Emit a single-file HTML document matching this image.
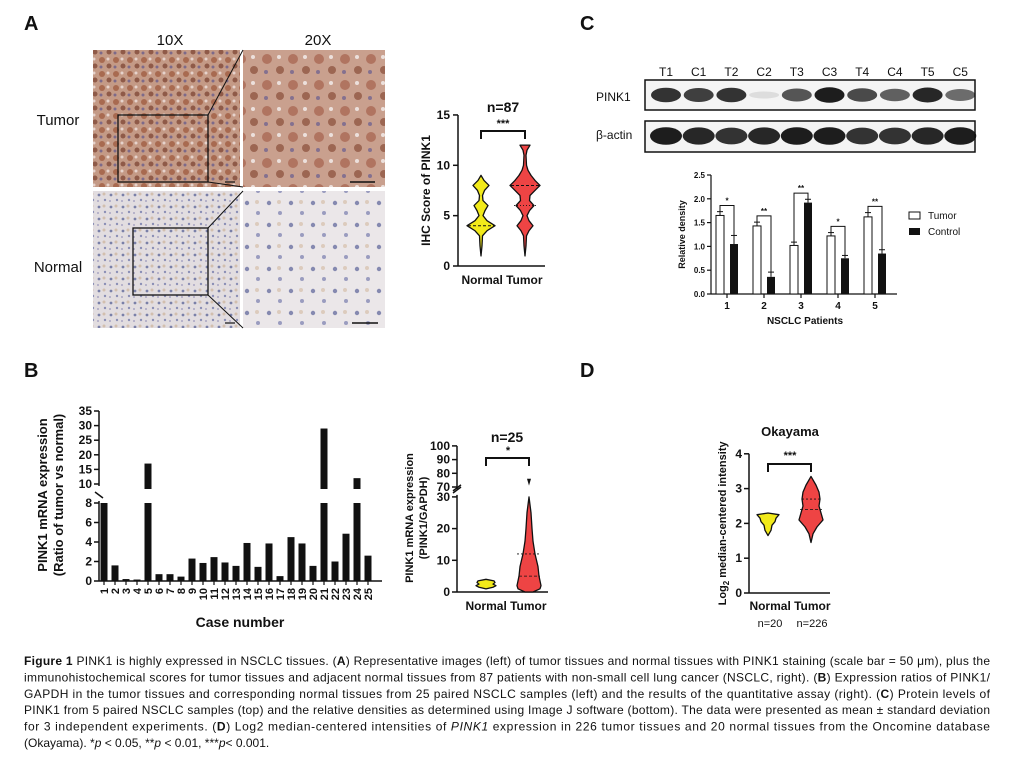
<!DOCTYPE html>
<html><head><meta charset="utf-8"><style>
html,body{margin:0;padding:0;background:#fff;}
svg{display:block;font-family:"Liberation Sans",Arial,sans-serif;}
</style></head><body>
<svg id="fig" width="1029" height="765" viewBox="0 0 1029 765" xmlns="http://www.w3.org/2000/svg">
<defs>
<pattern id="tumorTex" width="14" height="14" patternUnits="userSpaceOnUse">
<rect width="14" height="14" fill="#c49a86"/><circle cx="4" cy="4" r="3" fill="#a86a50"/><circle cx="11" cy="10" r="2.5" fill="#8f5a48"/><circle cx="10" cy="3" r="1.5" fill="#e6d3cc"/><circle cx="3" cy="11" r="1.5" fill="#7d6a8a"/>
</pattern>
<pattern id="normalTex" width="12" height="12" patternUnits="userSpaceOnUse">
<rect width="12" height="12" fill="#e2dde0"/><circle cx="3" cy="3" r="1.4" fill="#7a80a8"/><circle cx="9" cy="8" r="1.2" fill="#8b8fb5"/><circle cx="8" cy="2" r="1.5" fill="#d2bfae"/><circle cx="2" cy="9" r="1" fill="#a9a6c4"/>
</pattern>
<pattern id="tumorTex2" width="26" height="26" patternUnits="userSpaceOnUse">
<rect width="26" height="26" fill="#c9a08e"/><circle cx="7" cy="7" r="5" fill="#b07460"/><circle cx="20" cy="18" r="4" fill="#9c6652"/><circle cx="19" cy="5" r="2" fill="#ece0dc"/><circle cx="6" cy="20" r="2" fill="#84708f"/>
</pattern>
<pattern id="normalTex2" width="22" height="22" patternUnits="userSpaceOnUse">
<rect width="22" height="22" fill="#ebe7e9"/><circle cx="5" cy="5" r="2.2" fill="#8589b0"/><circle cx="16" cy="15" r="2" fill="#9a9cbf"/><circle cx="15" cy="4" r="2" fill="#dccbbd"/>
</pattern>
</defs>
<g id="root"></g>
</svg>
<script>
const NS="http://www.w3.org/2000/svg";
const root=document.getElementById('root');
function E(tag,attrs,parent,text){const e=document.createElementNS(NS,tag);for(const k in attrs)e.setAttribute(k,attrs[k]);if(text!==undefined)e.textContent=text;(parent||root).appendChild(e);return e;}
function G(name){const g=E('g',{});return g;}
function T(p,x,y,s,txt,o){o=o||{};const t=E('text',Object.assign({x:x,y:y,'font-size':s,fill:'#111','text-anchor':o.anchor||'middle','font-weight':o.bold?'bold':'normal'},o.extra||{}),p,txt);return t;}
function L(p,x1,y1,x2,y2,w,extra){return E('line',Object.assign({x1:x1,y1:y1,x2:x2,y2:y2,stroke:'#111','stroke-width':w||1.5},extra||{}),p);}

/* ---------- DATA ---------- */
const caseLabels=["1","2","3","4","5","6","7","8","9","10","11","12","13","14","15","16","17","18","19","20","21","22","23","24","25"];
const caseRatios=[8,1.6,0.2,0.15,17,0.7,0.7,0.45,2.3,1.85,2.45,1.9,1.55,3.9,1.45,3.85,0.5,4.5,3.85,1.55,29,2.0,4.85,12,2.6];
const bLowTicks=[0,2,4,6,8];
const bHighTicks=[10,15,20,25,30,35];
const patients=["1","2","3","4","5"];
const tumorDensity=[1.65,1.43,1.02,1.22,1.62];
const tumorErr=[0.08,0.08,0.07,0.07,0.09];
const controlDensity=[1.05,0.36,1.92,0.75,0.85];
const controlErr=[0.18,0.1,0.07,0.06,0.08];
const sigMarks=["*","**","**","*","**"];
const cTicks=[0,0.5,1.0,1.5,2.0,2.5];
const lanes=["T1","C1","T2","C2","T3","C3","T4","C4","T5","C5"];
const pinkBand=[0.85,0.8,0.85,0.1,0.7,0.95,0.75,0.65,0.9,0.6];
const actinBand=[0.95,0.9,0.85,0.9,0.95,0.95,0.85,0.85,0.9,0.95];
const ihcTicks=[0,5,10,15];
const ihcNormalV=[1,2,3,3.5,4,4.5,5,5.5,6,6.5,7,7.5,8,8.5,9];
const ihcNormalW=[0,1,1.5,6,14,6,2,4,7,2,1.5,3.5,8,3,0];
const ihcTumorV=[1,2,3,3.5,4,4.5,5,5.5,6,6.5,7,7.5,8,8.5,9,9.5,10,11,11.5,12];
const ihcTumorW=[0,1,1.5,4,8,4,2,4.5,9,4.5,5,10,15,10,6,3,1.5,1,2,5];
const qNormalV=[1,1.5,2,2.5,3,3.5,4];
const qNormalW=[0,7,10,7,9,8,0];
const qTumorV=[0,1,2,5,8,12,16,20,25,30];
const qTumorW=[4,11,12,10,9,6,4,3,2,0];
const dNormalV=[1.65,1.8,1.95,2.05,2.15,2.25,2.3];
const dNormalW=[0,3,4,7,8,11,0];
const dTumorV=[1.45,1.7,1.9,2.1,2.3,2.5,2.7,2.9,3.1,3.35];
const dTumorW=[0,2,6,12,10,8,9,8,5,0];
const dTicks=[0,1,2,3,4];

/* ---------- Panel letters ---------- */
[["A",24,30],["B",24,377],["C",580,30],["D",580,377]].forEach(([l,x,y])=>{const t=T(root,x,y,20,l,{anchor:'start',bold:true});});

/* ---------- Panel A images ---------- */
(function(){
const g=G('panel-a-histology');
T(g,170,45,15,'10X');T(g,318,45,15,'20X');
T(g,58,125,15,'Tumor',{anchor:'middle'});T(g,58,272,15,'Normal',{anchor:'middle'});
E('rect',{x:93,y:50,width:147,height:137,fill:'url(#tumorTex)'},g);
E('rect',{x:243,y:50,width:142,height:137,fill:'url(#tumorTex2)'},g);
E('rect',{x:93,y:191,width:147,height:137,fill:'url(#normalTex)'},g);
E('rect',{x:243,y:191,width:142,height:137,fill:'url(#normalTex2)'},g);
E('rect',{x:118,y:115,width:90,height:67,fill:'none',stroke:'#111','stroke-width':1.3},g);
L(g,208,115,243,50,1);L(g,208,182,243,187,1);
E('rect',{x:133,y:228,width:75,height:67,fill:'none',stroke:'#111','stroke-width':1.3},g);
L(g,208,228,243,191,1);L(g,208,295,243,328,1);
L(g,350,182,375,182,1.5);L(g,225,182,235,182,1.2);L(g,352,323,378,323,1.5);L(g,225,323,235,323,1.2);
})();

function violin(g,cx,vals,ws,ys,scale,fill,name){
 let d='';
 for(let i=0;i<vals.length;i++){d+=(i?'L':'M')+(cx-ws[i]*scale)+' '+ys(vals[i]);}
 for(let i=vals.length-1;i>=0;i--){d+='L'+(cx+ws[i]*scale)+' '+ys(vals[i]);}
 const p=E('path',{d:d+'Z',fill:fill,stroke:'#111','stroke-width':1.3,'stroke-linejoin':'round'},g);
 
 return p;
}

/* ---------- Panel A violin ---------- */
(function(){
const g=G('panel-a-ihc-violin');
const y0=266,ppu=10.07,ax=458;const ys=v=>y0-v*ppu;
L(g,ax,ys(15),ax,y0);L(g,ax,y0,545,y0);
ihcTicks.forEach(t=>{L(g,ax-5,ys(t),ax,ys(t));T(g,ax-8,ys(t)+4,12,String(t),{anchor:'end',bold:true});});
const yl=T(g,0,0,12,'IHC Score of PINK1',{bold:true});yl.setAttribute('transform',`translate(430,${ys(7.5)}) rotate(-90)`);
violin(g,481,ihcNormalV,ihcNormalW,ys,1,'#f2ea1a','violin-normal');
violin(g,525,ihcTumorV,ihcTumorW,ys,1,'#ee4444','violin-tumor');
L(g,468,ys(4),494,ys(4),1,{'stroke-dasharray':'3,2'});L(g,511,ys(8),539,ys(8),1,{'stroke-dasharray':'3,2'});L(g,514,ys(6),536,ys(6),0.8,{'stroke-dasharray':'1,2'});
T(g,503,112,14,'n=87',{bold:true});T(g,503,127,11,'***',{bold:true});
E('path',{d:'M481 139 V131 H525 V139',fill:'none',stroke:'#111','stroke-width':2},g);
T(g,502,284,12,'Normal Tumor',{bold:true});
})();

/* ---------- Panel C blot ---------- */
(function(){
const g=G('panel-c-western-blot');
const x0=666,step=32.7;
lanes.forEach((l,i)=>T(g,x0+i*step,76,12,l));
T(g,596,101,12,'PINK1',{anchor:'start'});T(g,596,139,12,'β-actin',{anchor:'start'});
E('rect',{x:645,y:80,width:330,height:30,fill:'#f4f4f4',stroke:'#111','stroke-width':1.5},g);
E('rect',{x:645,y:121,width:330,height:31,fill:'#f4f4f4',stroke:'#111','stroke-width':1.5},g);
pinkBand.forEach((v,i)=>{E('ellipse',{cx:x0+i*step,cy:95,rx:15,ry:3+v*5,fill:'#111','fill-opacity':v},g);});
actinBand.forEach((v,i)=>{E('ellipse',{cx:x0+i*step,cy:136,rx:16,ry:5+v*4,fill:'#111','fill-opacity':v},g);});
})();

/* ---------- Panel C bar chart ---------- */
(function(){
const g=G('panel-c-density-chart');
const ax=711,y0=294,ppu=47.6;const ys=v=>y0-v*ppu;
const gx=i=>727+i*37;
L(g,ax,ys(2.5),ax,y0,1.2);L(g,ax,y0,897,y0,1.2);
cTicks.forEach(t=>{L(g,ax-4,ys(t),ax,ys(t),1.2);T(g,ax-6,ys(t)+3,8,t.toFixed(1),{anchor:'end',bold:true});});
const yl=T(g,0,0,9,'Relative density',{bold:true});yl.setAttribute('transform',`translate(685,${ys(1.25)}) rotate(-90)`);
patients.forEach((p,i)=>{
 const cx=gx(i);L(g,cx,y0,cx,y0+4,1.2);T(g,cx,y0+15,10,p,{bold:true});
 const tb=E('rect',{x:cx-11,y:ys(tumorDensity[i]),width:8,height:tumorDensity[i]*ppu,fill:'#fff',stroke:'#111','stroke-width':1},g);
 
 const cb=E('rect',{x:cx+3,y:ys(controlDensity[i]),width:8,height:controlDensity[i]*ppu,fill:'#111'},g);
 
 const tx=cx-7,cx2=cx+7;
 L(g,tx,ys(tumorDensity[i]),tx,ys(tumorDensity[i]+tumorErr[i]),1);L(g,tx-3,ys(tumorDensity[i]+tumorErr[i]),tx+3,ys(tumorDensity[i]+tumorErr[i]),1);
 L(g,cx2,ys(controlDensity[i]),cx2,ys(controlDensity[i]+controlErr[i]),1);L(g,cx2-3,ys(controlDensity[i]+controlErr[i]),cx2+3,ys(controlDensity[i]+controlErr[i]),1);
 const top=Math.max(tumorDensity[i]+tumorErr[i],controlDensity[i]+controlErr[i])+0.13;
 E('path',{d:`M${tx} ${ys(tumorDensity[i]+tumorErr[i])} V${ys(top)} H${cx2} V${ys(controlDensity[i]+controlErr[i])}`,fill:'none',stroke:'#111','stroke-width':1},g);
 T(g,cx,ys(top)-2,8,sigMarks[i],{bold:true});
});
T(g,805,324,10,'NSCLC Patients',{bold:true});
E('rect',{x:909,y:212,width:11,height:7,fill:'#fff',stroke:'#111','stroke-width':1},g);T(g,928,219,10,'Tumor',{anchor:'start'});
E('rect',{x:909,y:228,width:11,height:7,fill:'#111'},g);T(g,928,235,10,'Control',{anchor:'start'});
})();

/* ---------- Panel B bar chart ---------- */
(function(){
const g=G('panel-b-ratio-chart');
const ax=99,y0=581,lowPpu=9.75,brk=484,hiPpu=2.92;
const ys=v=> v<=8 ? y0-v*lowPpu : brk-(v-10)*hiPpu;
const xs=i=>104+i*11;
L(g,ax,ys(35),ax,ys(10)+2);L(g,ax,ys(8)-2,ax,y0);L(g,ax-4,492,ax+4,498,1.5);L(g,ax,y0,382,y0);
bLowTicks.concat(bHighTicks).forEach(t=>{L(g,ax-5,ys(t),ax,ys(t));T(g,ax-7,ys(t)+4,12,String(t),{anchor:'end',bold:true});});
caseRatios.forEach((v,i)=>{
 const x=xs(i)-3.5;
 if(v<=8){const b=E('rect',{x:x,y:ys(v),width:7,height:y0-ys(v),fill:'#111'},g);}
 else{const b=E('rect',{x:x,y:ys(8),width:7,height:y0-ys(8),fill:'#111'},g);
   const b2=E('rect',{x:x,y:ys(v),width:7,height:ys(10)+5-ys(v),fill:'#111'},g);}
 L(g,xs(i),y0,xs(i),y0+4,1.2);
 const t=T(g,0,0,11,caseLabels[i],{anchor:'end',bold:true});t.setAttribute('transform',`translate(${xs(i)+4},${y0+7}) rotate(-90)`);
});
const a=T(g,0,0,13,'PINK1 mRNA expression',{bold:true});a.setAttribute('transform','translate(47,495) rotate(-90)');
const b=T(g,0,0,13,'(Ratio of tumor vs normal)',{bold:true});b.setAttribute('transform','translate(63,495) rotate(-90)');
T(g,240,627,14,'Case number',{bold:true});
})();

/* ---------- Panel B violin ---------- */
(function(){
const g=G('panel-b-qpcr-violin');
const ax=457,y0=592,lp=3.17,hp=1.37;
const ys=v=> v<=30? y0-v*lp : 487-(v-70)*hp;
L(g,ax,ys(100),ax,ys(70)+2);L(g,ax,ys(30)-2,ax,y0);L(g,ax-4,ys(30)-6,ax+4,ys(30)-12,1.5);L(g,ax-4,ys(70)+6,ax+4,ys(70),1.5);
L(g,ax,y0,548,y0);
[0,10,20,30,70,80,90,100].forEach(t=>{L(g,ax-5,ys(t),ax,ys(t));T(g,ax-7,ys(t)+4,12,String(t),{anchor:'end',bold:true});});
const a=T(g,0,0,11,'PINK1 mRNA expression',{bold:true});a.setAttribute('transform','translate(413,518) rotate(-90)');
const b=T(g,0,0,11,'(PINK1/GAPDH)',{bold:true});b.setAttribute('transform','translate(427,518) rotate(-90)');
violin(g,486,qNormalV,qNormalW,ys,1,'#f2ea1a','violin-normal');
violin(g,529,qTumorV,qTumorW,ys,1,'#ee4444','violin-tumor');
E('path',{d:`M527 ${ys(76)} L531 ${ys(76)} L529 ${ys(71)} Z`,fill:'#111'},g);
L(g,517,ys(12),541,ys(12),0.8,{'stroke-dasharray':'2,2'});L(g,519,ys(5),540,ys(5),0.8,{'stroke-dasharray':'3,2'});
T(g,507,442,14,'n=25',{bold:true});T(g,508,454,11,'*',{bold:true});
E('path',{d:'M486 466 V458 H529 V466',fill:'none',stroke:'#111','stroke-width':2},g);
T(g,506,610,12,'Normal Tumor',{bold:true});
})();

/* ---------- Panel D violin ---------- */
(function(){
const g=G('panel-d-okayama-violin');
const ax=749,y0=593,ppu=34.8;const ys=v=>y0-v*ppu;
L(g,ax,ys(4),ax,y0);L(g,ax,y0,830,y0);
dTicks.forEach(t=>{L(g,ax-5,ys(t),ax,ys(t));T(g,ax-7,ys(t)+4,12,String(t),{anchor:'end',bold:true});});
const a=E('text',{'font-size':11,'font-weight':'bold','text-anchor':'middle',fill:'#111',transform:`translate(726,${ys(2)}) rotate(-90)`},g);
E('tspan',{},a,'Log');E('tspan',{'font-size':8,dy:3},a,'2');E('tspan',{dy:-3},a,' median-centered intensity');
violin(g,768,dNormalV,dNormalW,ys,1,'#f2ea1a','violin-normal');
violin(g,811,dTumorV,dTumorW,ys,1,'#ee4444','violin-tumor');
L(g,800,ys(2.4),822,ys(2.4),0.8,{'stroke-dasharray':'3,2'});L(g,802,ys(2.7),820,ys(2.7),0.8,{'stroke-dasharray':'2,2'});
T(g,790,436,13,'Okayama',{bold:true});T(g,790,459,11,'***',{bold:true});
E('path',{d:'M768 472 V464 H811 V472',fill:'none',stroke:'#111','stroke-width':2},g);
T(g,790,610,12,'Normal Tumor',{bold:true});
T(g,770,627,11,'n=20');T(g,812,627,11,'n=226');
})();

/* ---------- Caption ---------- */
(function(){
const g=G('figure-caption');
const lines=[
[['Figure 1',1],[' PINK1 is highly expressed in NSCLC tissues. (',0],['A',1],[') Representative images (left) of tumor tissues and normal tissues with PINK1 staining (scale bar = 50 μm), plus the',0]],
[['immunohistochemical scores for tumor tissues and adjacent normal tissues from 87 patients with non-small cell lung cancer (NSCLC, right). (',0],['B',1],[') Expression ratios of PINK1/',0]],
[['GAPDH in the tumor tissues and corresponding normal tissues from 25 paired NSCLC samples (left) and the results of the quantitative assay (right). (',0],['C',1],[') Protein levels of',0]],
[['PINK1 from 5 paired NSCLC samples (top) and the relative densities as determined using Image J software (bottom). The data were presented as mean ± standard deviation',0]],
[['for 3 independent experiments. (',0],['D',1],[') Log2 median-centered intensities of ',0],['PINK1',2],[' expression in 226 tumor tissues and 20 normal tissues from the Oncomine database',0]],
[['(Okayama). *',0],['p',2],[' < 0.05, **',0],['p',2],[' < 0.01, ***',0],['p',2],['< 0.001.',0]]];
lines.forEach((ln,i)=>{
 const attrs={x:24,y:665+i*16.4,'font-size':12,fill:'#111'};
 if(i<5){attrs.textLength=966;attrs.lengthAdjust='spacing';}
 const t=E('text',attrs,g);
 ln.forEach(([s,st])=>{const sp=E('tspan',{},t,s);if(st==1)sp.setAttribute('font-weight','bold');if(st==2)sp.setAttribute('font-style','italic');});
});
})();
</script>
</body></html>
